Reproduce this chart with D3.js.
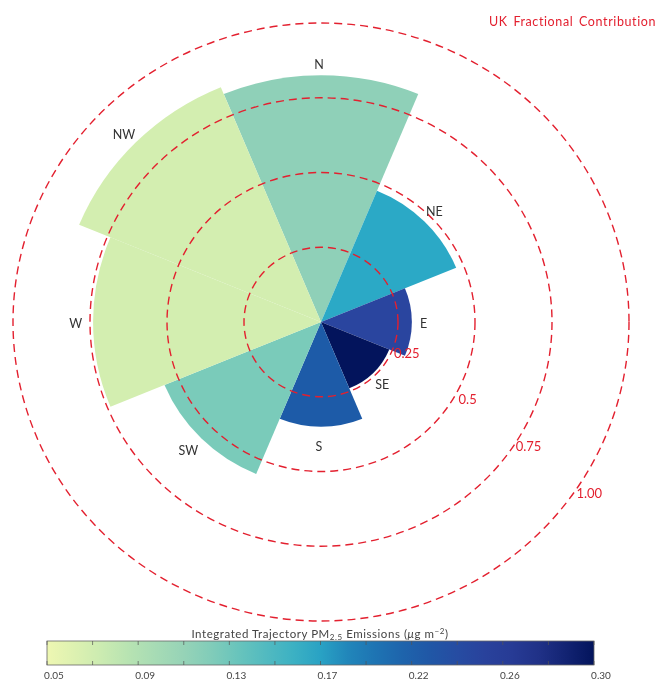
<!DOCTYPE html>
<html>
<head>
<meta charset="utf-8">
<script src="https://cdn.jsdelivr.net/npm/d3@7"></script>
<style>
html, body { margin: 0; padding: 0; background: #fff; }
svg { display: block; filter: blur(0.35px); }
text { font-family: Lato, "Open Sans", sans-serif; }
</style>
</head>
<body>
<div id="chart"></div>
<script>
const directions = ["N", "NE", "E", "SE", "S", "SW", "W", "NW"];
const fractions = [0.825, 0.475, 0.295, 0.24, 0.35, 0.55, 0.74, 0.85];
const emissions = [0.118, 0.172, 0.245, 0.30, 0.22, 0.128, 0.07, 0.07];
const rings = [0.25, 0.5, 0.75, 1.0];
const ringLabels = ["0.25", "0.5", "0.75", "1.00"];
const barTicks = ["0.05", "0.09", "0.13", "0.17", "0.22", "0.26", "0.30"];
const rampValues = [0.05, 0.07, 0.0917, 0.118, 0.133, 0.172, 0.19, 0.22, 0.245, 0.27, 0.30];
const rampColors = ["#eef7b2", "#d3eeb0", "#b0e0b3", "#8fd0b8", "#70c8bb", "#2ba9c6", "#1f80b8", "#1d5ba8", "#2a459f", "#263790", "#03145c"];
const labelRadius = [0.865, 0.53, 0.34, 0.29, 0.41, 0.6, 0.79, 0.895];

const width = 657, height = 682;
const cx = 321, cy = 322;

const svg = d3.select("#chart").append("svg")
    .attr("width", width)
    .attr("height", height);

// radial scale, the original plot is stretched a bit horizontally
const rY = d3.scaleLinear().domain([0, 1]).range([0, 299]);
const rX = d3.scaleLinear().domain([0, 1]).range([0, 308]);
const color = d3.scaleLinear().domain(rampValues).range(rampColors);
const angle = d3.scaleBand().domain(directions).range([-Math.PI / 8, 2 * Math.PI - Math.PI / 8]);

const arc = d3.arc()
    .innerRadius(0)
    .outerRadius(d => rY(d.f))
    .startAngle(d => angle(d.dir))
    .endAngle(d => angle(d.dir) + angle.bandwidth());

const wedges = directions.map((dir, i) => ({ dir: dir, f: fractions[i], e: emissions[i] }));

const plot = svg.append("g")
    .attr("transform", `translate(${cx},${cy}) scale(${rX(1) / rY(1)},1)`);

plot.selectAll("path")
    .data(wedges)
    .enter()
    .append("path")
    .attr("d", arc)
    .attr("fill", d => color(d.e));

// dashed rings
svg.selectAll(".ring")
    .data(rings)
    .enter()
    .append("ellipse")
    .attr("class", "ring")
    .attr("cx", cx)
    .attr("cy", cy)
    .attr("rx", d => rX(d))
    .attr("ry", d => rY(d))
    .attr("fill", "none")
    .attr("stroke", "#e3202f")
    .attr("stroke-width", 1.4)
    .attr("stroke-dasharray", "8 5");

// ring labels sit on the lower right
svg.selectAll(".ring-label")
    .data(rings)
    .enter()
    .append("text")
    .attr("class", "ring-label")
    .attr("x", d => cx + 25 + rX(d) * 0.79)
    .attr("y", d => cy - 11 + rY(d) * 0.625)
    .attr("text-anchor", "middle")
    .attr("fill", "#e3202f")
    .attr("font-size", 13)
    .text((d, i) => ringLabels[i]);

// direction labels
svg.selectAll(".dir")
    .data(directions)
    .enter()
    .append("text")
    .attr("class", "dir")
    .attr("x", (d, i) => cx - 2 + rX(labelRadius[i]) * Math.sin(angle(d) + angle.bandwidth() / 2))
    .attr("y", (d, i) => cy - rY(labelRadius[i]) * Math.cos(angle(d) + angle.bandwidth() / 2) + 6)
    .attr("text-anchor", "middle")
    .attr("fill", "#333")
    .attr("font-size", 12.5)
    .text(d => d);

svg.append("text")
    .attr("x", 656)
    .attr("y", 26)
    .attr("text-anchor", "end")
    .attr("fill", "#e3202f")
    .attr("font-size", 12.5)
    .attr("letter-spacing", 0.6)
    .attr("word-spacing", 2)
    .text("UK Fractional Contribution");

// colour bar
const barX = d3.scaleLinear().domain([0.05, 0.30]).range([47, 594]);
const barY = 641, barH = 24;
const defs = svg.append("defs");
const grad = defs.append("linearGradient").attr("id", "bar");
d3.range(0, 1.01, 0.05).forEach(t => {
    grad.append("stop")
        .attr("offset", t)
        .attr("stop-color", color(0.05 + t * 0.25));
});
svg.append("rect")
    .attr("x", barX(0.05))
    .attr("y", barY)
    .attr("width", barX(0.30) - barX(0.05))
    .attr("height", barH)
    .attr("fill", "url(#bar)")
    .attr("stroke", "#666")
    .attr("stroke-width", 0.8);

// 12 divisions, every other one carries a label
const barValues = d3.range(13).map(i => 0.05 + i * 0.25 / 12);
svg.selectAll(".tick-top")
    .data(barValues)
    .enter()
    .append("line")
    .attr("x1", d => barX(d))
    .attr("x2", d => barX(d))
    .attr("y1", barY)
    .attr("y2", barY + 4)
    .attr("stroke", "#555")
    .attr("stroke-width", 0.7);
svg.selectAll(".tick-bottom")
    .data(barValues)
    .enter()
    .append("line")
    .attr("x1", d => barX(d))
    .attr("x2", d => barX(d))
    .attr("y1", barY + barH - 4)
    .attr("y2", barY + barH)
    .attr("stroke", "#555")
    .attr("stroke-width", 0.7);
svg.selectAll(".bar-label")
    .data(barTicks)
    .enter()
    .append("text")
    .attr("class", "bar-label")
    .attr("x", (d, i) => barX(barValues[i * 2]) + 7)
    .attr("y", 679)
    .attr("text-anchor", "middle")
    .attr("fill", "#444")
    .attr("font-size", 10)
    .text(d => d);

const title = svg.append("text")
    .attr("x", 320)
    .attr("y", 638)
    .attr("text-anchor", "middle")
    .attr("fill", "#444")
    .attr("font-size", 11.5)
    .attr("letter-spacing", 0.55);
title.append("tspan").text("Integrated Trajectory PM");
title.append("tspan").attr("font-size", 8).attr("dy", 2).text("2.5");
title.append("tspan").attr("dy", -2).text(" Emissions (");
title.append("tspan").attr("font-style", "italic").text("\u03bc");
title.append("tspan").text("g m");
title.append("tspan").attr("font-size", 8).attr("dy", -4).text("\u22122");
title.append("tspan").attr("dy", 4).text(")");
</script>
</body>
</html>
